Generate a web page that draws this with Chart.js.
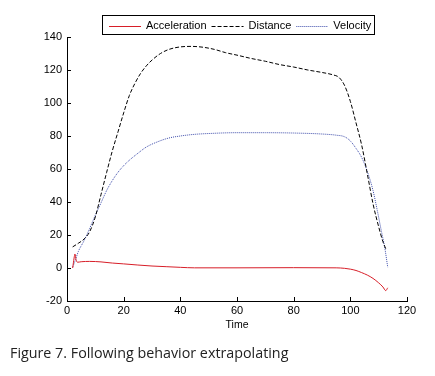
<!DOCTYPE html>
<html><head><meta charset="utf-8">
<script src="https://cdn.jsdelivr.net/npm/chart.js@4"></script>
<style>
html,body{margin:0;padding:0;background:#fff;}
#wrap{position:relative;width:435px;height:376px;}
#caption{position:absolute;left:10px;top:343px;font-family:"Open Sans";font-size:14.3px;color:#222;white-space:nowrap;}
</style></head><body>
<div id="wrap"><canvas id="c" width="435" height="376"></canvas><div id="caption">Figure 7. Following behavior extrapolating</div></div>
<script>
const seriesNames = ["Acceleration", "Distance", "Velocity"];
const xTickValues = [0, 20, 40, 60, 80, 100, 120];
const yTickValues = [-20, 0, 20, 40, 60, 80, 100, 120, 140];

const accelTime = [2, 2.5, 2.8, 3.2, 3.7, 5, 8, 12, 16, 20, 25, 30, 35, 40, 45, 60, 80, 95, 98, 100, 102, 104, 106, 108, 110, 111.5, 112.5, 113.2];
const accelValues = [0, 6, 8.5, 5, 3.5, 3.8, 4, 3.7, 3, 2.5, 1.8, 1.2, 0.8, 0.4, 0.1, 0.1, 0.2, 0.1, -0.2, -0.7, -1.5, -2.8, -4.3, -6.3, -9, -11.5, -13.7, -12];

const distTime = [2, 4, 6, 8, 10, 12, 14, 16, 18, 20, 22, 24, 26, 28, 30, 33, 36, 40, 44, 48, 52, 56, 60, 65, 70, 75, 80, 85, 90, 94, 96, 98, 100, 102, 104, 106, 108, 110, 111.5, 112.7];
const distValues = [12.8, 15, 17.5, 22, 31, 44.5, 58, 71, 82.5, 94, 104.5, 112, 118, 122.5, 126, 130, 132.5, 134, 134.3, 133.8, 132.5, 130.5, 129, 127, 125.3, 123.3, 121.8, 120, 118.5, 117, 115.5, 110.5, 101, 88, 74.5, 57, 39, 25, 16, 10.8];

const velTime = [2, 3, 4, 6, 8, 10, 12, 14, 16, 18, 20, 22, 25, 28, 32, 36, 40, 45, 50, 60, 70, 80, 90, 95, 98, 100, 102, 104, 106, 108, 109.5, 111, 112.1, 113.2];
const velValues = [0.5, 5, 10, 16.5, 24, 32, 39.5, 47, 53, 58, 62, 65.3, 69.5, 73.3, 76.5, 78.8, 80, 81, 81.5, 82, 82, 81.8, 81.2, 80.5, 79.5, 77, 72.5, 67, 58.5, 47, 35, 22, 12.8, 0.5];

function pairs(t, v) { return t.map((x, i) => ({x: x, y: v[i]})); }

const FONT = "Arial, 'Liberation Sans', sans-serif";

const decor = {
  id: 'decor',
  afterDraw(chart) {
    const ctx = chart.ctx, xs = chart.scales.x, ys = chart.scales.y, a = chart.chartArea;
    ctx.save();
    ctx.strokeStyle = '#000'; ctx.lineWidth = 1; ctx.setLineDash([]);
    ctx.beginPath();
    xs.ticks.forEach(t => { const px = Math.round(xs.getPixelForValue(t.value)) + 0.5; ctx.moveTo(px, a.bottom); ctx.lineTo(px, a.bottom - 4); });
    ys.ticks.forEach(t => { const py = Math.round(ys.getPixelForValue(t.value)) + 0.5; ctx.moveTo(a.left, py); ctx.lineTo(a.left + 4, py); });
    ctx.stroke();
    // legend
    ctx.font = '11px ' + FONT;
    ctx.textBaseline = 'middle';
    ctx.fillStyle = '#000';
    const boxLeft = 102.5, boxTop = 15.5, boxH = 19, cy = 26;
    let x0 = 109;
    chart.data.datasets.forEach(ds => {
      ctx.save();
      ctx.strokeStyle = ds.borderColor; ctx.lineWidth = ds.borderWidth || 1;
      ctx.setLineDash(ds.borderDash || []);
      ctx.beginPath(); ctx.moveTo(x0, cy + 0.5); ctx.lineTo(x0 + 32, cy + 0.5); ctx.stroke();
      ctx.restore();
      ctx.fillText(ds.label, x0 + 37, cy);
      x0 = x0 + 37 + ctx.measureText(ds.label).width + 5;
    });
    ctx.strokeStyle = '#000'; ctx.lineWidth = 1; ctx.setLineDash([]);
    ctx.strokeRect(boxLeft, boxTop, Math.round(x0 - 2 - boxLeft), boxH);
    ctx.restore();
  }
};

new Chart(document.getElementById('c'), {
  type: 'line',
  data: {
    datasets: [
      {label: seriesNames[0], data: pairs(accelTime, accelValues), borderColor: 'rgb(215,30,40)', borderWidth: 1, pointRadius: 0, cubicInterpolationMode: 'monotone'},
      {label: seriesNames[1], data: pairs(distTime, distValues), borderColor: 'rgb(0,0,0)', borderWidth: 1, borderDash: [4, 2], pointRadius: 0, cubicInterpolationMode: 'monotone'},
      {label: seriesNames[2], data: pairs(velTime, velValues), borderColor: 'rgb(60,75,170)', borderWidth: 1, borderDash: [1, 1], pointRadius: 0, cubicInterpolationMode: 'monotone'}
    ]
  },
  options: {
    responsive: false,
    animation: false,
    devicePixelRatio: 1,
    layout: {padding: {top: 37, right: 28, bottom: 45, left: 0}},
    plugins: {legend: {display: false}, tooltip: {enabled: false}},
    scales: {
      x: {
        type: 'linear', min: 0, max: 120,
        afterBuildTicks: s => { s.ticks = xTickValues.map(v => ({value: v})); },
        afterFit: s => { s.height = 30; },
        ticks: {font: {size: 11, family: FONT}, color: '#000', padding: 3},
        grid: {display: false, drawTicks: false},
        border: {display: true, color: '#000', width: 1},
        title: {display: true, text: 'Time', font: {size: 10.5, family: FONT}, color: '#000', padding: 0}
      },
      y: {
        type: 'linear', min: -20, max: 140,
        afterBuildTicks: s => { s.ticks = yTickValues.map(v => ({value: v})); },
        afterFit: s => { s.width = 67; },
        ticks: {font: {size: 11, family: FONT}, color: '#000', padding: 5},
        grid: {display: false, drawTicks: false},
        border: {display: true, color: '#000', width: 1}
      }
    }
  },
  plugins: [decor]
});
</script>
</body></html>
